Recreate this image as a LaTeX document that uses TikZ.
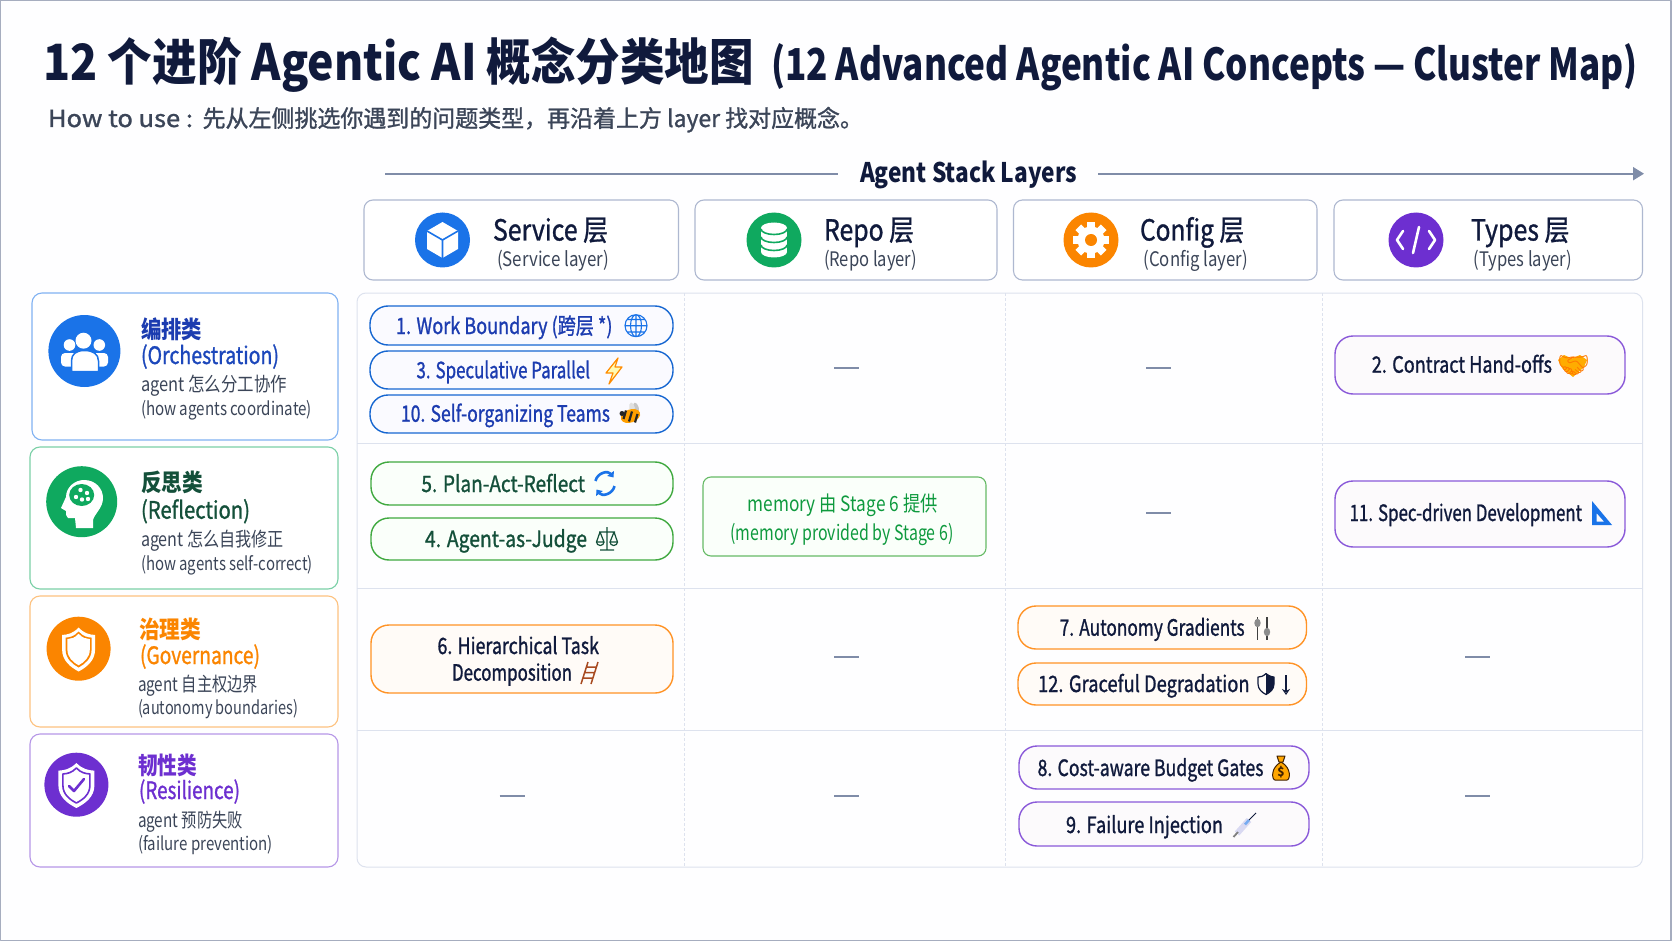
\documentclass[tikz,border=0pt]{standalone}
\usepackage{fontspec}
\usepackage{graphicx}
\usetikzlibrary{arrows.meta}
\setmainfont{Noto Sans CJK SC}
\newfontfamily\medf[FakeBold=1.2]{Noto Sans CJK SC}
\newfontfamily\emojif{Noto Emoji}
\newsavebox\fwbox
\newcommand\fw[2]{\sbox\fwbox{#2}\pgfmathsetmacro\fwr{(#1)/\the\wd\fwbox}\scalebox{\fwr}[1]{\usebox\fwbox}}
\newcommand\tx[6]{\node[#5,anchor=base,inner sep=0pt] (#1) at ({(#2+#3)/2},#4) {\fw{#3-#2}{#6}};}
\newcommand\pill[6]{\node[#6,minimum width={#4-#2},minimum height={#5-#3},inner sep=0pt] (#1) at ({(#2+#4)/2},{(#3+#5)/2}) {};}
\definecolor{navy}{HTML}{101A3C}
\definecolor{slatetx}{HTML}{3B4558}
\definecolor{cblue}{HTML}{1A73E8}
\definecolor{cgreen}{HTML}{0FA95F}
\definecolor{corange}{HTML}{FB8500}
\definecolor{cpurple}{HTML}{6D2FD0}
\definecolor{bgc}{HTML}{FEFEFF}
\definecolor{framec}{HTML}{A6ADBF}
\definecolor{stackc}{HTML}{7F8CA8}
\definecolor{headln}{HTML}{AEB8D0}
\definecolor{gridc}{HTML}{DDE2EE}
\definecolor{bluetx}{HTML}{1C3CB0}
\definecolor{greentx}{HTML}{14503A}
\definecolor{memotx}{HTML}{0E9A3E}
\definecolor{ladderc}{HTML}{A84A20}
\def\shieldshape{(0,-1) .. controls (.35,-.72) and (.65,-.68) .. (1,-.66) -- (1,0) .. controls (1,.5) and (.5,.8) .. (0,1) .. controls (-.5,.8) and (-1,.5) .. (-1,0) -- (-1,-.66) .. controls (-.65,-.68) and (-.35,-.72) .. (0,-1) -- cycle}
\tikzset{
 titleA/.style={font=\fontsize{50}{50}\selectfont\bfseries,text=navy},
 titleB/.style={font=\fontsize{44}{44}\selectfont\bfseries,text=navy},
 subt/.style={font=\fontsize{23.5}{24}\selectfont\medf,text=slatetx},
 stack/.style={font=\fontsize{27}{27}\selectfont\bfseries,text=navy},
 layA/.style={font=\fontsize{29}{29}\selectfont\medf,text=navy},
 layB/.style={font=\fontsize{20}{20}\selectfont,text=slatetx},
 catA/.style={font=\fontsize{24}{24}\selectfont\bfseries},
 catB/.style={font=\fontsize{24}{24}\selectfont\medf},
 catC/.style={font=\fontsize{19.5}{20}\selectfont,text=slatetx},
 catD/.style={font=\fontsize{18.5}{19}\selectfont,text=slatetx},
 ptx/.style={font=\fontsize{22.5}{23}\selectfont\medf},
 mtx/.style={font=\fontsize{21}{21}\selectfont,text=memotx},
 boxhead/.style={draw=headln,fill=white,line width=1.1pt,rounded corners=9pt},
 card/.style={draw=#1,fill=white,line width=1.1pt,rounded corners=10pt},
 pillb/.style={draw=#1,line width=1.4pt,rounded corners=18pt},
 pblue/.style={pillb=cblue!90!black,fill=blue!2!white},
 pgreen/.style={pillb=green!55!black!75,fill=green!2!white},
 porange/.style={pillb=orange!85,fill=orange!3!white},
 ppurple/.style={pillb=cpurple!80,fill=violet!2!white},
 memo/.style={draw=green!55!black!60,fill=green!2!white,line width=1.1pt,rounded corners=8pt},
 nocell/.style={line width=2pt,draw=stackc},
 gridl/.style={draw=gridc,line width=1pt},
 gridd/.style={draw=gridc,line width=.7pt,dash pattern=on 3pt off 2pt},
 stackarrow/.style={draw=stackc,line width=2pt},
}
\begin{document}
\begin{tikzpicture}[x=1pt,y=-1pt,line join=round]
\useasboundingbox (0,0) rectangle (1672,941);
\fill[bgc] (0,0) rectangle (1672,941);
\draw[framec,line width=1.6pt] (0.5,0.5) rectangle (1671,940.5);
% title
\tx{tA}{43.5}{754}{81}{titleA}{12 个进阶 Agentic AI 概念分类地图}
\tx{tB}{771}{1638}{81}{titleB}{(12 Advanced Agentic AI Concepts — Cluster Map)}
\tx{subA}{48}{193}{127}{subt}{How to use :}
\tx{subB}{202.6}{863}{127}{subt}{先从左侧挑选你遇到的问题类型，再沿着上方 layer 找对应概念。}
% stack arrow
\tx{stk}{860}{1077}{182.5}{stack}{Agent Stack Layers}
\coordinate (aL) at (385,173.7); \coordinate (aLe) at (838,173.7);
\coordinate (aR) at (1098,173.7); \coordinate (aRe) at (1644,173.7);
\draw[stackarrow] (aL) -- (aLe);
\draw[stackarrow,-{Triangle[length=11pt,width=13pt]}] (aR) -- (aRe);
% layer headers
\pill{hS}{364}{200}{678.5}{280}{boxhead}
\pill{hR}{695}{200}{997}{280}{boxhead}
\pill{hC}{1013.5}{200}{1317}{280}{boxhead}
\pill{hT}{1334}{200}{1642.5}{280}{boxhead}
\tx{hS1}{493}{608}{240.5}{layA}{Service 层}
\tx{hS2}{497}{609}{266.5}{layB}{(Service layer)}
\tx{hR1}{824}{914}{240.5}{layA}{Repo 层}
\tx{hR2}{824}{917}{266.5}{layB}{(Repo layer)}
\tx{hC1}{1140}{1244}{240.5}{layA}{Config 层}
\tx{hC2}{1143.5}{1248}{266.5}{layB}{(Config layer)}
\tx{hT1}{1471}{1569.5}{240.5}{layA}{Types 层}
\tx{hT2}{1473.5}{1572}{266.5}{layB}{(Types layer)}
% header icons
\fill[cblue] (442.5,240) circle (27.5);
\fill[white] (442.5,222) -- (458,231) -- (458,249) -- (442.5,258) -- (427,249) -- (427,231) -- cycle;
\draw[cblue,line width=1.6pt] (427,231) -- (442.5,240) -- (458,231) (442.5,240) -- (442.5,258);
\fill[cgreen] (774,240) circle (27.5);
\fill[white] (761,228) rectangle (787,252);
\fill[white] (774,228) ellipse (13 and 5.5);
\fill[white] (774,252) ellipse (13 and 5.5);
\draw[cgreen,line width=1.6pt] (761,229) arc[start angle=180,end angle=360,x radius=13,y radius=-5.5]
 (761,237) arc[start angle=180,end angle=360,x radius=13,y radius=-5.5]
 (761,245) arc[start angle=180,end angle=360,x radius=13,y radius=-5.5];
\fill[corange] (1091,240) circle (27.5);
\foreach \a in {0,45,...,315}{\fill[white,shift={(1091,240)},rotate=\a] (-4,-18) rectangle (4,0);}
\fill[white] (1091,240) circle (13.5);
\fill[corange] (1091,240) circle (6);
\fill[cpurple] (1416,240) circle (27.5);
\draw[white,line width=2.6pt,line cap=round] (1403,231) -- (1397,240) -- (1403,249) (1429,231) -- (1435,240) -- (1429,249) (1419,227) -- (1413,253);
% left cards
\pill{c1}{32}{293}{338}{440}{card=cblue!55}
\pill{c2}{30}{447}{338}{589}{card=cgreen!55}
\pill{c3}{30}{596}{338}{727}{card=corange!50}
\pill{c4}{30}{734}{338}{867}{card=cpurple!50}
\tx{c1a}{141}{202}{338}{catA,text=bluetx}{编排类}
\tx{c1b}{141}{279}{364}{catB,text=bluetx!80!cblue}{(Orchestration)}
\tx{c1c}{141}{287}{391.7}{catC}{agent 怎么分工协作}
\tx{c1d}{141}{312}{415.7}{catD}{(how agents coordinate)}
\tx{c2a}{141}{203}{491.7}{catA,text=greentx}{反思类}
\tx{c2b}{141}{250}{518.7}{catB,text=greentx}{(Reflection)}
\tx{c2c}{141}{284}{546.7}{catC}{agent 怎么自我修正}
\tx{c2d}{141}{313}{570.7}{catD}{(how agents self-correct)}
\tx{c3a}{139}{201}{638.7}{catA,text=corange}{治理类}
\tx{c3b}{140}{260}{664}{catB,text=corange}{(Governance)}
\tx{c3c}{138}{258}{691}{catC}{agent 自主权边界}
\tx{c3d}{138}{298}{714}{catD}{(autonomy boundaries)}
\tx{c4a}{138}{197}{774}{catA,text=cpurple}{韧性类}
\tx{c4b}{139}{240}{799}{catB,text=cpurple}{(Resilience)}
\tx{c4c}{138}{243}{827}{catC}{agent 预防失败}
\tx{c4d}{138}{273}{850.7}{catD}{(failure prevention)}
% card icons
\fill[cblue] (84.4,351) circle (36);
\fill[white] (69.5,345) circle (5.8) (99.3,345) circle (5.8);
\fill[white,rounded corners=4pt] (61,353) rectangle (78,366.5) (91,353) rectangle (108,366.5);
\filldraw[white,draw=cblue,line width=1.5pt] (71.5,371.5) -- (71.5,361) .. controls (71.5,354) and (76,350.5) .. (84.5,350.5) .. controls (93,350.5) and (98.5,354) .. (98.5,361) -- (98.5,371.5) -- cycle;
\fill[white] (83.5,340.7) circle (8);
\fill[cgreen] (81.7,501.7) circle (35.5);
\fill[white] (76,528) -- (75,518) -- (68,518) .. controls (66,517) and (66,514) .. (66,511) -- (61,508) -- (66,497) .. controls (66,487) and (75,480) .. (84,480) .. controls (96,480) and (103,489) .. (103,498) .. controls (103,508) and (95,513) .. (93,520) -- (93,528) -- cycle;
\fill[cgreen] (81.7,495) ellipse (12.5 and 11);
\fill[white] (76,497) circle (2.2) (80.5,490) circle (2.2) (87,493) circle (2.2) (82,499.5) circle (2.2) (88,499) circle (2.2);
\fill[corange] (78.6,648.7) circle (32);
\fill[white,shift={(78.6,649.5)},xscale=16.5,yscale=22] \shieldshape;
\fill[corange,shift={(78.6,649.5)},xscale=13,yscale=18] \shieldshape;
\fill[white,shift={(78.6,649.5)},xscale=11.2,yscale=15.8] \shieldshape;
\fill[cpurple] (76.4,784.7) circle (32);
\fill[white,shift={(76.4,785.5)},xscale=18,yscale=22.5] \shieldshape;
\draw[cpurple,line width=1.6pt,shift={(76.4,785.5)},xscale=13.5,yscale=17.5] \shieldshape;
\draw[cpurple,line width=2.6pt,line cap=round] (69,786) -- (74,791) -- (84,779);
% grid
\draw[gridl,fill=bgc,rounded corners=9pt] (357,293) rectangle (1642.5,867);
\coordinate (g1l) at (357,443); \coordinate (g1r) at (1642.5,443);
\coordinate (g2l) at (357,588); \coordinate (g2r) at (1642.5,588);
\coordinate (g3l) at (357,730); \coordinate (g3r) at (1642.5,730);
\draw[gridl] (g1l) -- (g1r) (g2l) -- (g2r) (g3l) -- (g3r);
\coordinate (v1t) at (684.5,293); \coordinate (v1b) at (684.5,867);
\coordinate (v2t) at (1005,293); \coordinate (v2b) at (1005,867);
\coordinate (v3t) at (1322,293); \coordinate (v3b) at (1322,867);
\draw[gridd] (v1t) -- (v1b) (v2t) -- (v2b) (v3t) -- (v3b);
% empty cells
\foreach \n/\x/\y in {a/846.5/368,b/1158.5/368,c/1158.5/512.7,d/846.5/657,e/1477.5/657,f/512/796,g/846.5/796,h/1477.5/796}{
 \coordinate (dl\n) at (\x-12.5,\y); \coordinate (dr\n) at (\x+12.5,\y);
 \draw[nocell] (dl\n) -- (dr\n);}
% pills
\pill{p1}{370}{306}{673}{345}{pblue}
\pill{p3}{370}{351}{673}{389}{pblue}
\pill{p10}{370}{395}{673}{433}{pblue}
\pill{p5}{371}{462}{673}{505}{pgreen}
\pill{p4}{371}{518}{673}{560}{pgreen}
\pill{p6}{371}{625}{673}{693}{porange}
\pill{pm}{703}{477}{986}{556}{memo}
\pill{p2}{1335}{336}{1625}{394}{ppurple}
\pill{p11}{1335}{481}{1625}{547}{ppurple}
\pill{p7}{1018}{606}{1306.5}{649}{porange}
\pill{p12}{1018}{663}{1306.5}{705}{porange}
\pill{p8}{1019}{746}{1309}{789}{ppurple}
\pill{p9}{1019}{802}{1309}{846}{ppurple}
\tx{t1}{396}{612.5}{334}{ptx,text=bluetx}{1. Work Boundary (跨层 *)}
\tx{t3}{416.5}{590}{378.3}{ptx,text=bluetx}{3. Speculative Parallel}
\tx{t10}{401}{610}{421.7}{ptx,text=bluetx}{10. Self-organizing Teams}
\tx{t5}{421.4}{585}{492}{ptx,text=greentx}{5. Plan-Act-Reflect}
\tx{t4}{425}{587}{547}{ptx,text=greentx}{4. Agent-as-Judge}
\tx{t6a}{437.5}{599}{654}{ptx,text=navy}{6. Hierarchical Task}
\tx{t6b}{452}{572}{680.7}{ptx,text=navy}{Decomposition}
\tx{tm1}{747.7}{937.6}{511}{mtx}{memory 由 Stage 6 提供}
\tx{tm2}{730.6}{953.4}{540}{mtx}{(memory provided by Stage 6)}
\tx{t2}{1371.8}{1552}{372.7}{ptx,text=navy}{2. Contract Hand-offs}
\tx{t11}{1349.6}{1582}{521}{ptx,text=navy}{11. Spec-driven Development}
\tx{t7}{1059.7}{1244.6}{635.7}{ptx,text=navy}{7. Autonomy Gradients}
\tx{t12}{1038}{1249.6}{692}{ptx,text=navy}{12. Graceful Degradation}
\tx{t8}{1037.6}{1263.5}{776}{ptx,text=navy}{8. Cost-aware Budget Gates}
\tx{t9}{1066}{1223}{833}{ptx,text=navy}{9. Failure Injection}
% globe
\draw[cblue,line width=1.1pt] (636,325.7) circle (11) (636,325.7) ellipse (5.5 and 11) (625,325.7) -- (647,325.7) (636,314.7) -- (636,336.7) (627,319.5) -- (645,319.5) (627,332) -- (645,332);
% bolt
\filldraw[draw=orange!90!yellow,fill=yellow!30,line width=1.2pt] (618,358) -- (606,373) -- (613,373) -- (609,384) -- (622,367) -- (615,367) -- cycle;
% bee
\fill[black!22,rotate around={15:(636,408)}] (636,408) ellipse (2.8 and 5.5);
\fill[black!12,rotate around={10:(632,408)}] (632,408) ellipse (2.8 and 5.5);
\fill[orange!75!yellow,rotate around={20:(630.5,416)}] (630.5,416) ellipse (10 and 6.5);
\draw[black!85,line width=2.2pt] (626,410.5) -- (623.5,419) (632,411.5) -- (629,421.5) (637.5,414) -- (635,422.5);
\fill[black!85] (622,413.5) circle (2.5);
% refresh
\draw[cblue,line width=2.6pt,-{Triangle[length=5pt,width=8pt]}] (595.5,481) .. controls (597,473) and (608,470) .. (613.5,477.5);
\draw[cblue,line width=2.6pt,-{Triangle[length=5pt,width=8pt]}] (614.5,486) .. controls (613,494) and (602,497) .. (596.5,489.5);
% scales
\draw[greentx,line width=1.2pt] (607,527) -- (607,550) (600,550) -- (614,550) (599,532) -- (615,532) (600,532) -- (596.5,542) -- (604,542) -- cycle (614,532) -- (610,542) -- (617.5,542) -- cycle;
\draw[greentx,line width=1.2pt] (596.5,542) arc[start angle=180,end angle=360,x radius=3.75,y radius=-3.5] (610,542) arc[start angle=180,end angle=360,x radius=3.75,y radius=-3.5];
% ladder
\draw[ladderc,line width=1.5pt] (581,684) -- (588,662) (591,684) -- (598,662) (586.5,667) -- (596.5,667) (585,672.5) -- (595,672.5) (583.5,678) -- (593,678);
% handshake
\fill[orange!65!yellow] (1558,360) -- (1564,355) -- (1572,358.5) -- (1580,355) -- (1587,360) -- (1584,367) -- (1573,377) -- (1562,368) -- cycle;
\node[font=\fontsize{26}{26}\selectfont\emojif,text=orange!95!red,inner sep=0pt] (ihs) at (1573.7,366) {🤝};
% set square
\fill[cblue,even odd rule] (1592,501) -- (1612,525) -- (1592,525) -- cycle (1596.5,513) -- (1596.5,521.5) -- (1604,521.5) -- cycle;
% sliders
\draw[black!75,line width=1.5pt] (1257.5,617) -- (1257.5,640) (1267,617) -- (1267,640);
\fill[black!45] (1257.5,623) ellipse (3.2 and 4.2) (1267,632) ellipse (3.2 and 4.2);
% half shield, arrow
\draw[navy,line width=1.2pt,shift={(1266,684)},xscale=8,yscale=10.5] \shieldshape;
\fill[navy] (1266,673.5) .. controls (1269,675.5) and (1272,676) .. (1274,677) -- (1274,684) .. controls (1274,689) and (1270,692) .. (1266,694.5) -- cycle;
\coordinate (dnA) at (1286,675); \coordinate (dnB) at (1286,695);
\draw[navy,line width=1.3pt,-{Stealth[length=6pt,width=8pt,open]}] (dnA) -- (dnB);
% money bag
\filldraw[draw=black!75!orange,fill=orange!70!yellow,line width=1pt] (1281,762) .. controls (1270,768) and (1272,780) .. (1275,780) -- (1287,780) .. controls (1290,780) and (1292,768) .. (1281,762) -- cycle;
\filldraw[draw=black!75!orange,fill=orange!70!yellow,line width=1pt] (1277,756) -- (1285,756) -- (1283,762) -- (1279,762) -- cycle;
\node[font=\fontsize{12}{12}\selectfont\bfseries,text=black!75!orange,inner sep=0pt] (dollar) at (1281,772) {\$};
% syringe
\draw[black!35!blue!15,line width=6pt] (1237,833.5) -- (1249,820);
\draw[cblue!60,line width=2.5pt] (1245,824.5) -- (1249,820);
\draw[black!50,line width=1.8pt] (1233.5,837) -- (1238,832);
\draw[navy,line width=.8pt] (1249,820) -- (1256,813);
\end{tikzpicture}
\end{document}
